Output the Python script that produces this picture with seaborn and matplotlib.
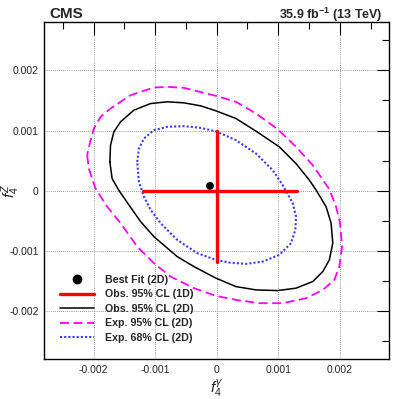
import numpy as np
import pandas as pd
import matplotlib
matplotlib.use("Agg")
import matplotlib.pyplot as plt
import seaborn as sns
from matplotlib.lines import Line2D
from matplotlib.ticker import MultipleLocator

# contour points, in units of 1e-3
exp95_x = [-2.104, -2.077, -2.023, -1.967, -1.779, -1.561, -1.291, -1.020, -0.748, -0.369,
           -0.011, 0.314, 0.693, 1.073, 1.452, 1.724, 1.912, 1.993, 2.037, 2.005,
           1.940, 1.831, 1.561, 1.289, 0.992, 0.639, 0.314, -0.011, -0.532, -0.803,
           -1.020, -1.398, -1.724, -1.886, -1.995, -2.055]
exp95_y = [0.591, 0.368, 0.201, 0.035, -0.265, -0.541, -0.930, -1.206, -1.429, -1.622,
           -1.750, -1.817, -1.872, -1.872, -1.789, -1.651, -1.484, -1.263, -0.930, -0.541,
           -0.265, 0.022, 0.424, 0.729, 1.023, 1.283, 1.478, 1.577, 1.710, 1.727,
           1.715, 1.589, 1.366, 1.228, 1.033, 0.812]

obs95_x = [-1.735, -1.698, -1.589, -1.426, -1.236, -1.020, -0.641, -0.369, -0.011, 0.314,
           0.639, 0.992, 1.289, 1.561, 1.724, 1.831, 1.886, 1.859, 1.777, 1.615,
           1.506, 1.289, 1.018, 0.639, 0.314, -0.011, -0.260, -0.532, -0.803, -1.073,
           -1.345, -1.561, -1.670, -1.724]
obs95_y = [0.479, 0.201, 0.005, -0.236, -0.514, -0.764, -1.097, -1.263, -1.456, -1.596,
           -1.651, -1.662, -1.622, -1.512, -1.346, -1.151, -0.874, -0.541, -0.265, 0.010,
           0.175, 0.451, 0.729, 0.990, 1.200, 1.328, 1.411, 1.461, 1.478, 1.449,
           1.339, 1.145, 0.978, 0.757]

exp68_x = [-1.291, -1.263, -1.182, -1.020, -0.803, -0.532, -0.260, -0.011, 0.314, 0.639,
           0.911, 1.073, 1.236, 1.289, 1.278, 1.208, 1.018, 0.748, 0.476, 0.205,
           -0.011, -0.315, -0.641, -0.911, -1.073, -1.182, -1.263]
exp68_y = [0.479, 0.700, 0.867, 1.007, 1.062, 1.073, 1.045, 0.987, 0.840, 0.617,
           0.341, 0.092, -0.208, -0.431, -0.652, -0.874, -1.068, -1.180, -1.218, -1.196,
           -1.151, -1.040, -0.819, -0.541, -0.319, -0.098, 0.146]

# 1D intervals and best fit
obs1d_fa = [-1.20, 1.30]
obs1d_fz = [-1.19, 0.995]
best_fit = (-0.109, 0.080)

SCALE = 1e-3


def closed(xs, ys):
    x = np.array(xs + xs[:1]) * SCALE
    y = np.array(ys + ys[:1]) * SCALE
    return pd.DataFrame({"x": x, "y": y})


sns.set_style("white")
plt.rcParams["font.family"] = ["Liberation Sans", "DejaVu Sans"]
plt.rcParams["mathtext.fontset"] = "custom"
plt.rcParams["mathtext.it"] = "Liberation Sans:italic"
plt.rcParams["mathtext.rm"] = "Liberation Sans"
plt.rcParams["mathtext.bf"] = "Liberation Sans:bold"

fig = plt.figure(figsize=(3.99, 3.99), dpi=100)
ax = fig.add_axes([0.111, 0.1003, 0.864, 0.8437])

ax.grid(True, which="major", linestyle=(0, (1, 1.5)), color="#777777", linewidth=0.6)
ax.set_axisbelow(True)

c_exp95 = "#ff00ff"
c_obs95 = "black"
c_exp68 = "#3b3bff"
c_red = "#ff0000"

sns.lineplot(data=closed(exp95_x, exp95_y), x="x", y="y", sort=False, estimator=None,
             color=c_exp95, linewidth=1.3, ax=ax)
ax.lines[-1].set_dashes((5, 2.5))
sns.lineplot(data=closed(obs95_x, obs95_y), x="x", y="y", sort=False, estimator=None,
             color=c_obs95, linewidth=1.1, ax=ax)
sns.lineplot(data=closed(exp68_x, exp68_y), x="x", y="y", sort=False, estimator=None,
             color=c_exp68, linewidth=1.5, ax=ax)
ax.lines[-1].set_linestyle((0, (1, 1)))
for ln in ax.lines:
    ln.set_solid_joinstyle("round")
    ln.set_dash_joinstyle("round")

sns.lineplot(x=np.array(obs1d_fa) * SCALE, y=[0.0, 0.0], color=c_red, linewidth=2.4,
             ax=ax, estimator=None)
sns.lineplot(x=[0.0, 0.0], y=np.array(obs1d_fz) * SCALE, color=c_red, linewidth=2.4,
             ax=ax, estimator=None, orient="y")
sns.scatterplot(x=[best_fit[0] * SCALE], y=[best_fit[1] * SCALE], color="black", s=32,
                edgecolor="none", ax=ax, zorder=5)

ax.set_xlim(-0.0028, 0.0028)
ax.set_ylim(-0.0028, 0.0028)
ax.xaxis.set_major_locator(MultipleLocator(0.001))
ax.yaxis.set_major_locator(MultipleLocator(0.001))
ax.xaxis.set_minor_locator(MultipleLocator(0.0005))
ax.yaxis.set_minor_locator(MultipleLocator(0.0005))
ax.xaxis.set_major_formatter(lambda v, p: "0" if abs(v) < 1e-9 else f"{v:g}")
ax.yaxis.set_major_formatter(lambda v, p: "0" if abs(v) < 1e-9 else f"{v:g}")
ax.tick_params(which="both", direction="in", top=True, right=True, labelsize=7.5,
               width=0.8, color="black", pad=4)
ax.tick_params(which="major", length=9)
ax.tick_params(which="minor", length=5)
for s in ax.spines.values():
    s.set_color("black")
    s.set_linewidth(1.0)

ax.set_xlabel(r"$f_{4}^{\gamma}$", fontsize=11, labelpad=2)
ax.set_ylabel(r"$f_{4}^{Z}$", fontsize=11)
ax.yaxis.set_label_coords(-0.066, 0.5)

fig.text(0.125, 0.954, "CMS", fontsize=11, fontweight="bold", va="baseline", ha="left")
fig.text(0.959, 0.952, r"35.9 fb$^{\mathbf{-1}}$ (13 TeV)", fontsize=9, fontweight="bold",
         va="baseline", ha="right")

handles = [
    Line2D([], [], marker="o", color="black", linestyle="none", markersize=6),
    Line2D([], [], color=c_red, linewidth=2.4),
    Line2D([], [], color=c_obs95, linewidth=1.1),
    Line2D([], [], color=c_exp95, linewidth=1.3, dashes=(5, 2.5)),
    Line2D([], [], color=c_exp68, linewidth=1.5, linestyle=(0, (1, 1))),
]
labels = ["Best Fit (2D)", "Obs. 95% CL (1D)", "Obs. 95% CL (2D)",
          "Exp. 95% CL (2D)", "Exp. 68% CL (2D)"]
ax.legend(handles, labels, loc="upper left", bbox_to_anchor=(0.045, 0.25),
          frameon=False, prop={"weight": "bold", "size": 7.7}, handlelength=3.2,
          handletextpad=1.0, labelspacing=0.42, borderpad=0, borderaxespad=0)

fig.savefig("out.png", dpi=100)
